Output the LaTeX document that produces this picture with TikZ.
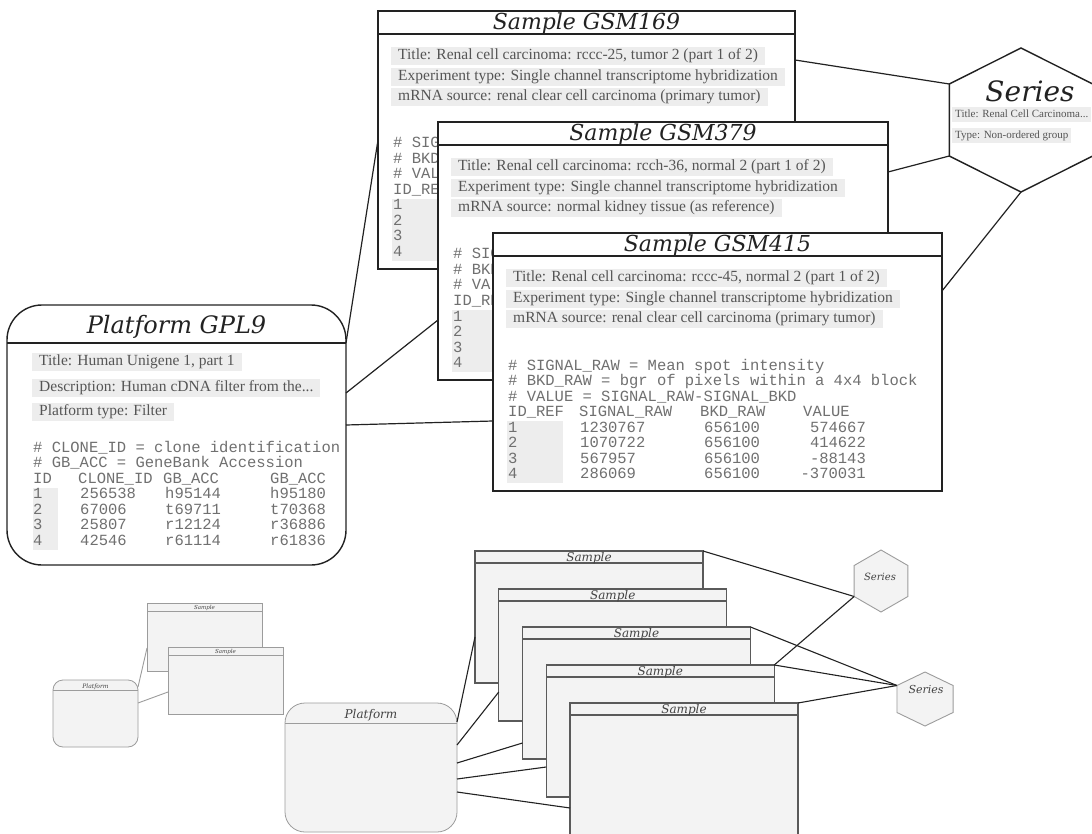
\documentclass[tikz,border=0pt]{standalone}
\usepackage{fontspec}
\setmainfont{Liberation Serif}
\setmonofont{Liberation Mono}
\newfontfamily\headfont{DejaVu Serif}
\usetikzlibrary{shapes.geometric,calc}

\definecolor{ink}{HTML}{222222}
\definecolor{fieldtext}{HTML}{555555}
\definecolor{monotext}{HTML}{707070}
\definecolor{barfill}{HTML}{EDEDED}
\definecolor{sketchfill}{HTML}{F3F3F3}
\definecolor{sketchline}{HTML}{9C9C9C}
\definecolor{stackline}{HTML}{5A5A5A}

\tikzset{
  panel/.style={rectangle, draw=ink, line width=1.4pt, fill=white,
    inner sep=0pt, outer sep=0pt, anchor=north west},
  panelrule/.style={draw=ink, line width=1.4pt},
  heading/.style={inner sep=0pt, anchor=base, text=ink,
    font=\headfont\itshape\fontsize{#1}{#1}\selectfont},
  field/.style={anchor=west, fill=barfill, text=fieldtext,
    inner xsep=7pt, inner ysep=0pt, minimum height=18.5pt,
    text height=10.5pt, text depth=3.5pt,
    font=\fontsize{15.5}{15.5}\selectfont},
  smallfield/.style={field, minimum height=15pt, inner xsep=3pt,
    text height=8pt, text depth=2.5pt,
    font=\fontsize{11}{11}\selectfont},
  mono/.style={anchor=base west, inner sep=0pt, text=monotext,
    font=\ttfamily\fontsize{15.5}{15.5}\selectfont},
  monoright/.style={mono, anchor=base east},
  idshade/.style={fill=barfill},
  link/.style={draw=ink, line width=1.2pt},
  hexagon/.style={regular polygon, regular polygon sides=6,
    shape border rotate=90, inner sep=0pt, outer sep=0pt},
  sketchpanel/.style={rectangle, draw=sketchline, line width=0.8pt,
    fill=sketchfill, inner sep=0pt, outer sep=0pt, anchor=north west},
  sketchrule/.style={draw=sketchline, line width=0.8pt},
  sketchlink/.style={draw=sketchline, line width=0.9pt},
  stackpanel/.style={sketchpanel, draw=stackline, line width=1.1pt},
  stackrule/.style={draw=stackline, line width=1.1pt},
  stacklink/.style={draw=ink, line width=1.1pt},
  sketchlabel/.style={heading=#1, text=ink!85},
}

% A sample record: frame, heading, three descriptive fields and the ID column
\newcommand\samplepanel[8]{%
  \node[panel, minimum width=#4pt, minimum height=258pt] (#1) at (#2,#3) {};
  \draw[panelrule] ([yshift=-23pt]#1.north west) -- ([yshift=-23pt]#1.north east);
  \node[heading=22] (#1-head) at ($(#1.north)+(0,18.5)$) {#5};
  \node[field] (#1-f1) at ($(#1.north west)+(13,45)$) {#6};
  \node[field] (#1-f2) at ($(#1.north west)+(13,66)$) {#7};
  \node[field] (#1-f3) at ($(#1.north west)+(13,86)$) {#8};
  \fill[idshade] ($(#1.north west)+(14,188)$) rectangle ($(#1.north west)+(70,250)$);
  \foreach \k in {1,...,4} {
    \node[mono] (#1-r\k) at ($(#1.north west)+(15,183.5+15.5*\k)$) {\k};
  }%
}
% The four header lines of a sample's data block
\newcommand\dataheader[5]{%
  \node[mono] (#1-c1) at ($(#1.north west)+(15,137)$) {#2};
  \node[mono] (#1-c2) at ($(#1.north west)+(15,152.5)$) {#3};
  \node[mono] (#1-c3) at ($(#1.north west)+(15,168)$) {#4};
  \node[mono] (#1-c4) at ($(#1.north west)+(15,183.5)$) {#5};
}

\begin{document}
\begin{tikzpicture}[x=1pt, y=-1pt]
\useasboundingbox (0,0) rectangle (1092,834);
\clip (0,0) rectangle (1092,834);
\fill[white] (0,0) rectangle (1092,834);

% ---------- detailed view: samples ----------
\samplepanel{s169}{378}{11}{417}{Sample GSM169}%
  {Title: Renal cell carcinoma: rccc-25, tumor 2 (part 1 of 2)}%
  {Experiment type: Single channel transcriptome hybridization}%
  {mRNA source: renal clear cell carcinoma (primary tumor)}
\dataheader{s169}{\# SIGN}{\# BKD\_}{\# VALU}{ID\_REF}

\samplepanel{s379}{438}{122}{450}{Sample GSM379}%
  {Title: Renal cell carcinoma: rcch-36, normal 2 (part 1 of 2)}%
  {Experiment type: Single channel transcriptome hybridization}%
  {mRNA source: normal kidney tissue (as reference)}
\dataheader{s379}{\# SIG}{\# BKD}{\# VAL}{ID\_RE}

\samplepanel{s415}{493}{233}{449}{Sample GSM415}%
  {Title: Renal cell carcinoma: rccc-45, normal 2 (part 1 of 2)}%
  {Experiment type: Single channel transcriptome hybridization}%
  {mRNA source: renal clear cell carcinoma (primary tumor)}
\dataheader{s415}{\# SIGNAL\_RAW = Mean spot intensity}%
  {\# BKD\_RAW = bgr of pixels within a 4x4 block}%
  {\# VALUE = SIGNAL\_RAW-SIGNAL\_BKD}{ID\_REF}

% data columns of GSM415
\node[mono] (s415-h2) at ($(s415.north west)+(86,183.5)$) {SIGNAL\_RAW};
\node[mono] (s415-h3) at ($(s415.north west)+(207,183.5)$) {BKD\_RAW};
\node[mono] (s415-h4) at ($(s415.north west)+(310,183.5)$) {VALUE};
\foreach \k/\sig/\bkd/\val in {1/1230767/656100/574667, 2/1070722/656100/414622,
                               3/567957/656100/-88143, 4/286069/656100/-370031} {
  \node[mono] (s415-sig\k) at ($(s415.north west)+(87,183.5+15.5*\k)$) {\sig};
  \node[mono] (s415-bkd\k) at ($(s415.north west)+(211,183.5+15.5*\k)$) {\bkd};
  \node[monoright] (s415-val\k) at ($(s415.north west)+(373,183.5+15.5*\k)$) {\val};
}

% ---------- detailed view: platform ----------
\node[panel, rounded corners=35pt, minimum width=339pt, minimum height=260pt] (gpl) at (7,305) {};
\draw[panelrule] ([yshift=-38pt]gpl.north west) -- ([yshift=-38pt]gpl.north east);
\node[heading=24] (gpl-head) at ($(gpl.north)+(0,29)$) {Platform GPL9};
\node[field] (gpl-f1) at ($(gpl.north west)+(25,57)$) {Title: Human Unigene 1, part 1\hspace{8pt}};
\node[field] (gpl-f2) at ($(gpl.north west)+(25,83)$) {Description: Human cDNA filter from the...};
\node[field] (gpl-f3) at ($(gpl.north west)+(25,107)$) {Platform type: Filter\hspace{8pt}};
\fill[idshade] ($(gpl.north west)+(26,183)$) rectangle ($(gpl.north west)+(51,245)$);
\node[mono] (gpl-c1) at ($(gpl.north west)+(26,147)$) {\# CLONE\_ID = clone identification};
\node[mono] (gpl-c2) at ($(gpl.north west)+(26,162.5)$) {\# GB\_ACC = GeneBank Accession};
\node[mono] (gpl-h1) at ($(gpl.north west)+(26,178)$) {ID};
\node[mono] (gpl-h2) at ($(gpl.north west)+(71,178)$) {CLONE\_ID};
\node[mono] (gpl-h3) at ($(gpl.north west)+(156,178)$) {GB\_ACC};
\node[mono] (gpl-h4) at ($(gpl.north west)+(263,178)$) {GB\_ACC};
\foreach \k/\cid/\ga/\gb in {1/256538/h95144/h95180, 2/67006/t69711/t70368,
                              3/25807/r12124/r36886, 4/42546/r61114/r61836} {
  \node[mono] (gpl-id\k) at ($(gpl.north west)+(26,178+15.5*\k)$) {\k};
  \node[mono] (gpl-cl\k) at ($(gpl.north west)+(73,178+15.5*\k)$) {\cid};
  \node[mono] (gpl-ga\k) at ($(gpl.north west)+(158,178+15.5*\k)$) {\ga};
  \node[mono] (gpl-gb\k) at ($(gpl.north west)+(263,178+15.5*\k)$) {\gb};
}

% ---------- detailed view: series ----------
\begin{scope}[shift={(1021,120)}, xscale=1.15]
  \node[hexagon, draw=ink, line width=1.4pt, fill=white, minimum size=144pt, transform shape] (series) at (0,0) {};
\end{scope}
\node[heading=28] (series-head) at (1030,102) {Series};
\node[smallfield] (series-f1) at (952,115) {Title: Renal Cell Carcinoma...};
\node[smallfield] (series-f2) at (952,136) {Type: Non-ordered group};

% links of the detailed view
\draw[link] ([yshift=-38pt]gpl.north east) -- ([yshift=-129pt]s169.north west);
\draw[link] ([yshift=-88pt]gpl.north east) -- ([yshift=-198pt]s379.north west);
\draw[link] ([yshift=-120pt]gpl.north east) -- ([yshift=-188pt]s415.north west);
\draw[link] ([yshift=-49pt]s169.north east) -- (series.150);
\draw[link] ([yshift=-50pt]s379.north east) -- (series.210);
\draw[link] ([yshift=-58pt]s415.north east) -- (series.270);

% ---------- small overview: one platform, two samples ----------
\node[sketchpanel, minimum width=115pt, minimum height=68pt] (mini1) at (147,603) {};
\draw[sketchrule] ([yshift=-8pt]mini1.north west) -- ([yshift=-8pt]mini1.north east);
\node[sketchlabel=5.5] (mini1-head) at ($(mini1.north)+(0,6.5)$) {Sample};
\node[sketchpanel, minimum width=115pt, minimum height=67pt] (mini2) at (168,647) {};
\draw[sketchrule] ([yshift=-8pt]mini2.north west) -- ([yshift=-8pt]mini2.north east);
\node[sketchlabel=5.5] (mini2-head) at ($(mini2.north)+(0,6.5)$) {Sample};
\node[sketchpanel, rounded corners=10pt, minimum width=85pt, minimum height=67pt] (mplat) at (53,680) {};
\draw[sketchrule] ([yshift=-10pt]mplat.north west) -- ([yshift=-10pt]mplat.north east);
\node[sketchlabel=6] (mplat-head) at ($(mplat.north)+(0,8)$) {Platform};
\draw[sketchlink] ([yshift=-7pt]mplat.north east) -- ([yshift=-45pt]mini1.north west);
\draw[sketchlink] ([yshift=-23pt]mplat.north east) -- ([yshift=-45pt]mini2.north west);

% ---------- larger overview: one platform, five samples, two series ----------
\foreach \k in {0,...,4} {
  \node[stackpanel, minimum width=228pt, minimum height=132pt] (st\k) at ({475+23.75*\k},{551+38*\k}) {};
  \draw[stackrule] ([yshift=-12pt]st\k.north west) -- ([yshift=-12pt]st\k.north east);
  \node[sketchlabel=12] (st\k-head) at ($(st\k.north)+(0,10)$) {Sample};
}
\node[sketchpanel, rounded corners=20pt, minimum width=172pt, minimum height=129pt] (bplat) at (285,703) {};
\draw[sketchrule, line width=1pt] ([yshift=-20pt]bplat.north west) -- ([yshift=-20pt]bplat.north east);
\node[sketchlabel=12] (bplat-head) at ($(bplat.north)+(0,15)$) {Platform};

\node[hexagon, draw=sketchline, line width=0.9pt, fill=sketchfill, minimum size=62pt] (hexA) at (881,581) {};
\node[sketchlabel=10] (hexA-head) at (880,580) {Series};
\begin{scope}[shift={(925,699)}, xscale=1.2]
  \node[hexagon, draw=sketchline, line width=0.9pt, fill=sketchfill, minimum size=54pt, transform shape] (hexB) at (0,0) {};
\end{scope}
\node[sketchlabel=11] (hexB-head) at (926,693) {Series};

\draw[stacklink] ([yshift=-19pt]bplat.north east) -- ([yshift=-86pt]st0.north west);
\draw[stacklink] ([yshift=-42pt]bplat.north east) -- ([yshift=-103pt]st1.north west);
\draw[stacklink] ([yshift=-60pt]bplat.north east) -- ([yshift=-116pt]st2.north west);
\draw[stacklink] ([yshift=-76pt]bplat.north east) -- ([yshift=-102pt]st3.north west);
\draw[stacklink] ([yshift=-89pt]bplat.north east) -- ([yshift=-105pt]st4.north west);
\draw[stacklink] (st0.north east) -- (hexA.210);
\draw[stacklink] (st2.north east) -- (hexB.150);
\draw[stacklink] (st3.north east) -- (hexA.210);
\draw[stacklink] (st3.north east) -- (hexB.150);
\draw[stacklink] (st4.north east) -- (hexB.150);
\end{tikzpicture}
\end{document}
